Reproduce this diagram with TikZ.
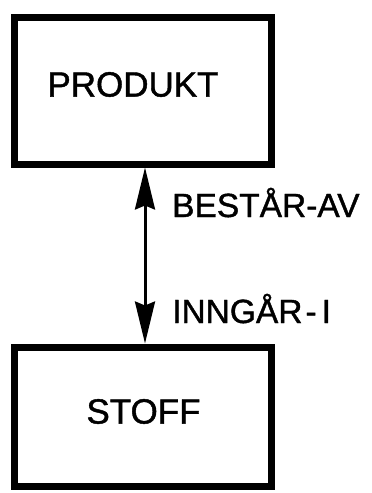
\documentclass[tikz,border=0pt]{standalone}
\usepackage{fontspec}
\setmainfont{Liberation Sans}[FakeBold=1.2]
\usetikzlibrary{arrows.meta}
\begin{document}
\begin{tikzpicture}[x=1pt,y=-1pt,
  entity/.style={draw, line width=7pt, inner sep=0pt, minimum width=257pt},
  boxtext/.style={font=\fontsize{35}{40}\selectfont, inner sep=0pt, anchor=center},
  reltext/.style={font=\fontsize{33.5}{38}\selectfont, inner sep=0pt, anchor=base west},
  rel/.style={line width=3pt, {Stealth[length=42pt,width=20pt,inset=4pt]}-{Stealth[length=42pt,width=20pt,inset=4pt]}}]
  \useasboundingbox (0,0) rectangle (372,493);
  % entity boxes
  \node[entity, minimum height=147pt] (produkt) at (142.5,90.5) {};
  \node[entity, minimum height=139pt] (stoff) at (143,416.5) {};
  % entity names
  \node[boxtext] (produktname) at (133,84.5) {PRODUKT};
  \node[boxtext] (stoffname) at (143.5,411.5) {STOFF};
  % relationship between the two entities
  \draw[rel] ([xshift=2.5pt]produkt.south) -- ([xshift=2pt]stoff.north);
  \node[reltext] (bestaar) at (172,217) {BESTÅR-AV};
  \node[reltext] (inngaar) at (172,323) {INNGÅR\kern3pt-\kern5pt I};
\end{tikzpicture}
\end{document}
